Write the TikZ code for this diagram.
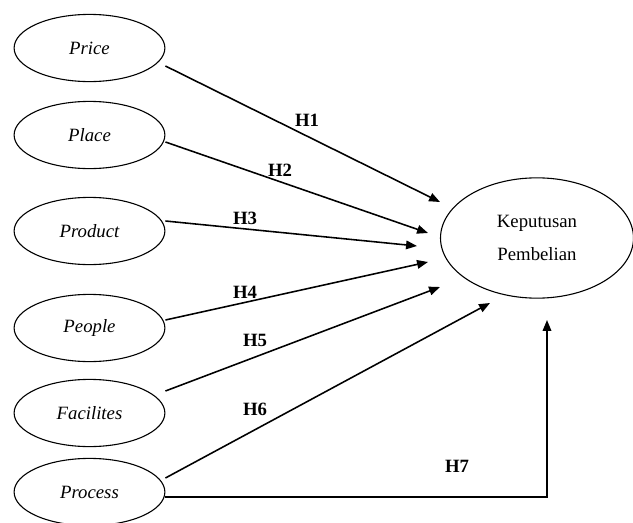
\documentclass[tikz,border=0pt]{standalone}
\usepackage{fontspec}
\setmainfont{Liberation Serif}
\usepackage{tikz}
\usetikzlibrary{calc, arrows.meta, shapes.geometric}

\begin{document}
\begin{tikzpicture}[x=0.64pt, y=-0.64pt,
        factor/.style={ellipse, draw, line width=0.7pt, minimum width=96.5pt, minimum height=43pt, inner sep=0pt, font=\fontsize{12pt}{14.4pt}\selectfont\itshape},
        target/.style={ellipse, draw, line width=0.7pt, minimum width=123.5pt, minimum height=77pt, inner sep=0pt, align=center, font=\fontsize{12pt}{14.4pt}\selectfont},
        hyp/.style={font=\fontsize{12pt}{14.4pt}\selectfont\bfseries, inner sep=1pt},
        arrow/.style={-{Triangle[length=7pt, width=5.5pt]}, line width=1pt, draw=black}
    ]
        \useasboundingbox (0,0) rectangle (633,523);

        \node[factor] (price) at (89.5,48) {Price};
        \node[factor] (place) at (89.5,135) {Place};
        \node[factor] (product) at (89.5,231) {Product};
        \node[factor] (people) at (89.5,328) {People};
        \node[factor] (facilites) at (89.5,413) {Facilites};
        \node[factor] (process) at (89.5,492) {Process};
        \node[target] (keputusan) at (537,238) {Keputusan\\[7pt]Pembelian};

        \coordinate (e1) at (440,202);
        \coordinate (e2) at (428,233);
        \coordinate (e3) at (417,246);
        \coordinate (e4) at (428,262);
        \coordinate (e5) at (440,287);
        \coordinate (e6) at (490,303);
        \coordinate (e7) at (547,320);

        \draw[arrow] ($(price.east)+(0,18)$) -- (e1);
        \draw[arrow] ($(place.east)+(0,7)$) -- (e2);
        \draw[arrow] ($(product.east)+(0,-10)$) -- (e3);
        \draw[arrow] ($(people.east)+(0,-8)$) -- (e4);
        \draw[arrow] ($(facilites.east)+(0,-22)$) -- (e5);
        \draw[arrow] ($(process.east)+(0,-14)$) -- (e6);
        \draw[arrow] ($(process.east)+(0,5)$) -| (e7);

        \node[hyp] (h1) at (307,120) {H1};
        \node[hyp] (h2) at (280,170) {H2};
        \node[hyp] (h3) at (245,218) {H3};
        \node[hyp] (h4) at (245,292) {H4};
        \node[hyp] (h5) at (255,340) {H5};
        \node[hyp] (h6) at (255,409) {H6};
        \node[hyp] (h7) at (457,466) {H7};
    \end{tikzpicture}
\end{document}
